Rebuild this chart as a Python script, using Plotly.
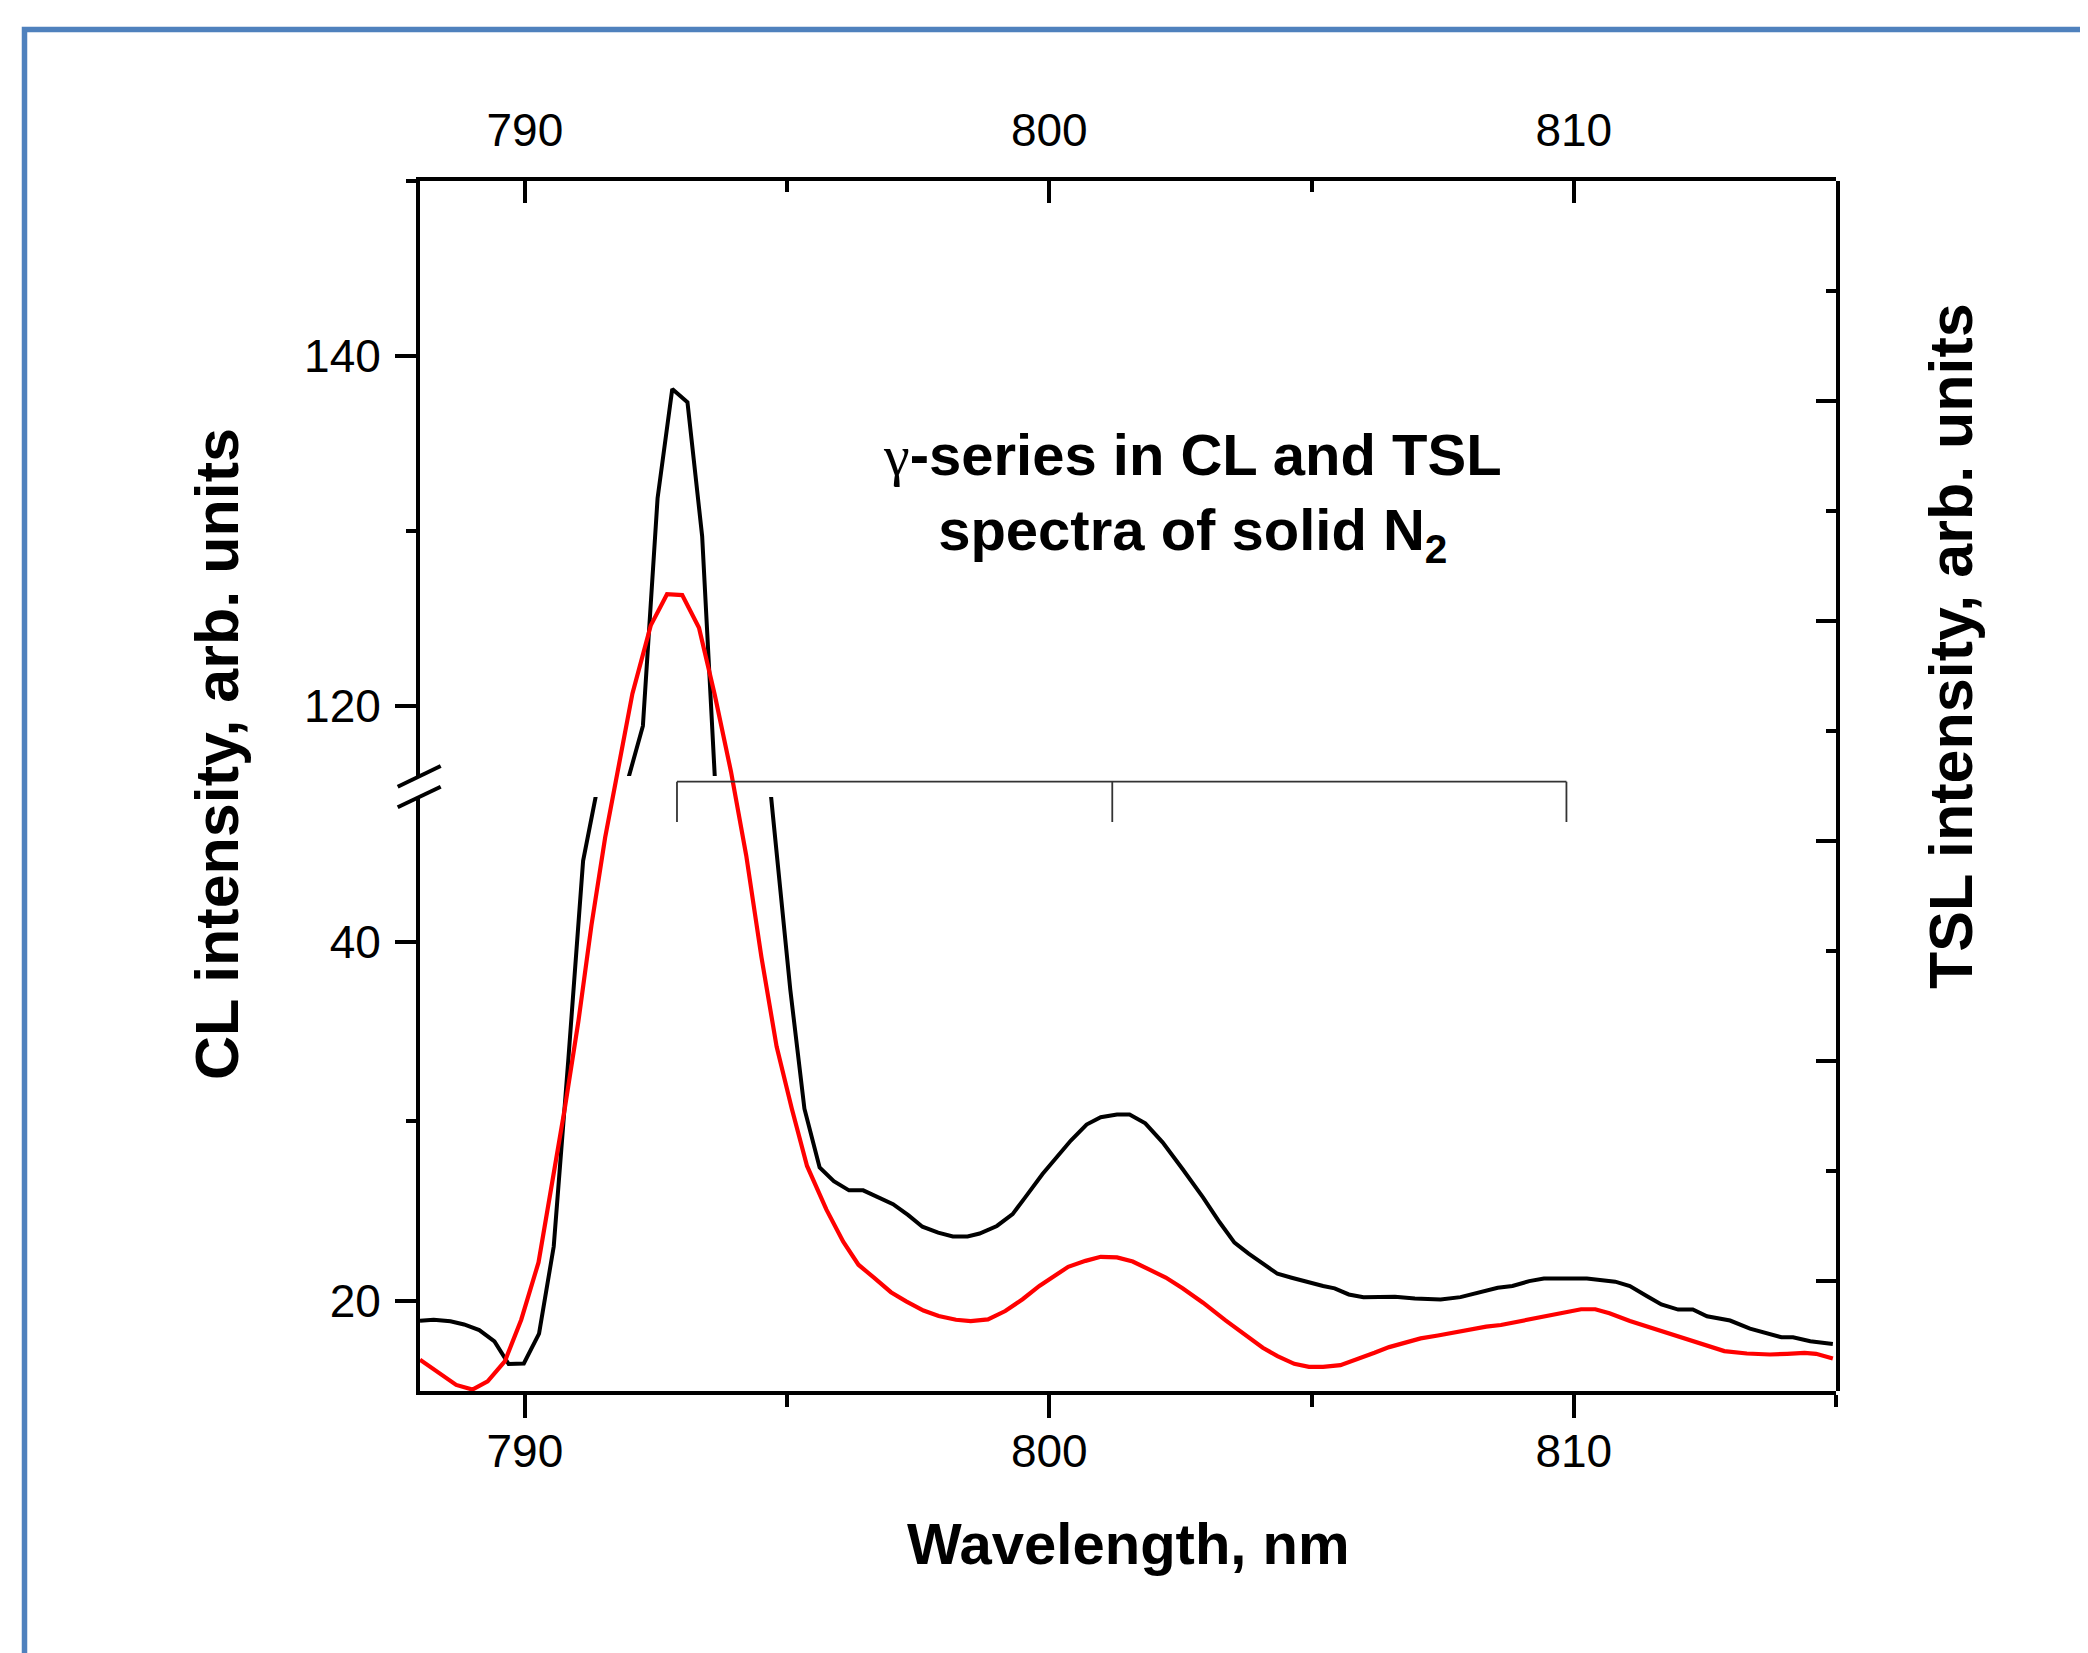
import plotly.graph_objects as go

# ---------------- data ----------------
cl_wavelength = [788.0, 788.26, 788.58, 788.84, 789.13, 789.42, 789.69, 789.98, 790.27, 790.55,
                 790.83, 791.11, 791.38, 791.65, 791.92, 792.25, 792.53, 792.81, 793.10, 793.38,
                 793.65, 793.92, 794.19, 794.46, 794.73, 795.06, 795.33, 795.62, 795.89, 796.18,
                 796.45, 796.73, 797.02, 797.31, 797.58, 797.88, 798.16, 798.44, 798.67, 799.00,
                 799.30, 799.54, 799.87, 800.14, 800.41, 800.71, 800.98, 801.29, 801.53, 801.83,
                 802.16, 802.54, 802.93, 803.25, 803.53, 803.80, 804.07, 804.35, 804.62, 804.95,
                 805.22, 805.44, 805.71, 805.99, 806.59, 806.97, 807.46, 807.84, 808.17, 808.55,
                 808.83, 809.15, 809.43, 809.92, 810.25, 810.79, 811.07, 811.39, 811.67, 811.99,
                 812.27, 812.54, 812.98, 813.36, 813.63, 813.96, 814.18, 814.51, 814.94]
cl_intensity = [18.91, 18.96, 18.88, 18.70, 18.39, 17.76, 16.50, 16.53, 18.19, 23.04,
                33.5, 44.49, 48.5, 80.0, 115.3, 118.86, 131.87, 138.12, 137.36, 129.70,
                114.3, 88.0, 70.0, 55.0, 47.0, 37.34, 30.70, 27.43, 26.67, 26.16,
                26.16, 25.77, 25.39, 24.78, 24.14, 23.81, 23.60, 23.60, 23.76, 24.18,
                24.84, 25.77, 27.07, 28.00, 28.93, 29.82, 30.23, 30.38, 30.38, 29.89,
                28.83, 27.35, 25.77, 24.37, 23.25, 22.64, 22.08, 21.52, 21.30, 21.02,
                20.84, 20.71, 20.37, 20.22, 20.24, 20.15, 20.09, 20.22, 20.46, 20.74,
                20.84, 21.11, 21.26, 21.25, 21.26, 21.08, 20.84, 20.28, 19.81, 19.53,
                19.53, 19.16, 18.92, 18.47, 18.23, 17.99, 17.99, 17.77, 17.62]

tsl_wavelength = [788.0, 788.40, 788.69, 789.0, 789.29, 789.62, 789.93, 790.26, 790.51, 790.76,
                  791.02, 791.27, 791.53, 791.77, 792.05, 792.40, 792.71, 793.0, 793.32, 793.62,
                  793.93, 794.22, 794.51, 794.80, 795.09, 795.38, 795.75, 796.07, 796.36, 796.65,
                  796.98, 797.27, 797.60, 797.89, 798.22, 798.50, 798.83, 799.16, 799.49, 799.81,
                  800.09, 800.36, 800.69, 800.98, 801.29, 801.59, 801.89, 802.22, 802.54, 802.93,
                  803.36, 803.75, 804.07, 804.35, 804.67, 804.95, 805.22, 805.55, 805.88, 806.20,
                  806.48, 806.75, 807.08, 807.41, 807.73, 808.01, 808.33, 808.61, 808.93, 809.26,
                  809.59, 809.86, 810.14, 810.41, 810.68, 811.07, 811.50, 811.94, 812.32, 812.87,
                  813.30, 813.74, 814.07, 814.40, 814.62, 814.94]
tsl_intensity = [0.284, 0.155, 0.055, 0.013, 0.088, 0.272, 0.648, 1.169, 1.858, 2.567,
                 3.360, 4.237, 5.03, 5.63, 6.34, 6.96, 7.244, 7.236, 6.939, 6.33,
                 5.63, 4.87, 3.945, 3.131, 2.567, 2.046, 1.649, 1.357, 1.148, 1.032,
                 0.898, 0.815, 0.731, 0.681, 0.648, 0.635, 0.651, 0.727, 0.834, 0.955,
                 1.047, 1.129, 1.183, 1.220, 1.214, 1.177, 1.107, 1.031, 0.934, 0.803,
                 0.642, 0.499, 0.393, 0.317, 0.247, 0.220, 0.220, 0.235, 0.287, 0.347,
                 0.399, 0.439, 0.478, 0.505, 0.536, 0.554, 0.585, 0.600, 0.630, 0.661,
                 0.691, 0.718, 0.743, 0.743, 0.706, 0.636, 0.569, 0.505, 0.439, 0.363,
                 0.341, 0.332, 0.338, 0.347, 0.338, 0.296]

gamma_lines = [792.9, 801.2, 809.86]          # gamma-series positions, nm
x_range = [788, 815]
y_low_range = [15, 48.04]                       # CL, lower part of broken axis
y_high_range = [116, 150]                       # CL, upper part of broken axis
y_tsl_range = [0, 11]                           # TSL (unlabelled right axis)

FONT = "Arial, 'Liberation Sans', sans-serif"
OFF = 8                                         # default page body margin
W, H = 2088 - OFF, 1653 - OFF
ML, MT = 412, 173
PW, PH = 1416, 1210
MR, MB = W - ML - PW, H - MT - PH


def px_x(x):   # reference page pixel -> paper x
    return (x - OFF - ML) / PW


def px_y(y):   # reference page pixel -> paper y
    return (H - MB - (y - OFF)) / PH


low_dom = [0, px_y(797)]
high_dom = [px_y(776), 1]

fig = go.Figure()
fig.add_trace(go.Scatter(x=cl_wavelength, y=cl_intensity, mode="lines", xaxis="x", yaxis="y",
                         line=dict(color="black", width=4), showlegend=False, hoverinfo="skip"))
fig.add_trace(go.Scatter(x=cl_wavelength, y=cl_intensity, mode="lines", xaxis="x", yaxis="y2",
                         line=dict(color="black", width=4), showlegend=False, hoverinfo="skip"))
# same CL data on the top-axis subplot (transparent) so the top axis gets drawn
fig.add_trace(go.Scatter(x=cl_wavelength, y=cl_intensity, mode="lines", xaxis="x2", yaxis="y2",
                         line=dict(color="black", width=4), opacity=0, showlegend=False,
                         hoverinfo="skip"))
fig.add_trace(go.Scatter(x=tsl_wavelength, y=tsl_intensity, mode="lines", xaxis="x", yaxis="y3",
                         line=dict(color="#FF0000", width=4.2), showlegend=False, hoverinfo="skip"))

common = dict(showgrid=False, zeroline=False, showline=True, linecolor="black", linewidth=4,
              tickcolor="black", tickwidth=3.5, tickfont=dict(family=FONT, size=46, color="black"))
minor_common = dict(tickwidth=3.5, tickcolor="black", showgrid=False)

fig.update_layout(
    width=W, height=H, autosize=False,
    margin=dict(l=ML, r=MR, t=MT, b=MB, pad=0),
    paper_bgcolor="white", plot_bgcolor="rgba(0,0,0,0)",
    xaxis=dict(**common, domain=[0, 1], range=x_range, anchor="y", side="bottom",
               ticks="outside", ticklen=23, tick0=790, dtick=10, ticklabelstandoff=-6,
               minor=dict(**minor_common, ticks="outside", ticklen=12, tick0=790, dtick=5)),
    xaxis2=dict(**common, overlaying="x", range=x_range, anchor="y2", side="top",
                ticks="inside", ticklen=22, tick0=790, dtick=10, ticklabelstandoff=13,
                minor=dict(**minor_common, ticks="inside", ticklen=11, tick0=790, dtick=5)),
    yaxis=dict(**common, domain=low_dom, range=y_low_range, anchor="x", side="left",
               ticks="outside", ticklen=21, tick0=0, dtick=20, ticklabelstandoff=5,
               minor=dict(**minor_common, ticks="outside", ticklen=10, tick0=0, dtick=10)),
    yaxis2=dict(**common, domain=high_dom, range=y_high_range, anchor="x", side="left",
                ticks="outside", ticklen=21, tick0=0, dtick=20, ticklabelstandoff=5,
                minor=dict(**minor_common, ticks="outside", ticklen=10, tick0=0, dtick=10)),
    yaxis3=dict(**common, domain=[0, 1], range=y_tsl_range, anchor="x", side="right",
                ticks="inside", ticklen=20, tick0=1, dtick=2, showticklabels=False,
                minor=dict(**minor_common, ticks="inside", ticklen=10, tick0=0, dtick=1)),
)

# gamma-series bracket (in TSL-axis units: 110 px per unit)
y_bar = (1391 - 781.7) / 110.0
y_tick = (1391 - 822) / 110.0
shapes = [dict(type="line", xref="x", yref="y3", x0=gamma_lines[0], x1=gamma_lines[-1],
               y0=y_bar, y1=y_bar, line=dict(color="#333333", width=1.8))]
for g in gamma_lines:
    shapes.append(dict(type="line", xref="x", yref="y3", x0=g, x1=g, y0=y_bar, y1=y_tick,
                       line=dict(color="#333333", width=1.8)))
# axis-break marks
for (ya, yb) in [(786.7, 766.0), (807.3, 786.7)]:
    shapes.append(dict(type="line", xref="paper", yref="paper", x0=px_x(397.7), x1=px_x(440.7),
                       y0=px_y(ya), y1=px_y(yb), line=dict(color="black", width=4)))
# blue frame (only top and left edges fall inside the picture)
shapes.append(dict(type="rect", xref="paper", yref="paper", x0=px_x(24.5), x1=px_x(2300),
                   y0=px_y(1900), y1=px_y(29.5), line=dict(color="#4F81BD", width=5.5),
                   fillcolor="rgba(0,0,0,0)", layer="above"))
fig.update_layout(shapes=shapes)

ann = [
    dict(text="<b>CL intensity, arb. units</b>", x=px_x(217), y=px_y(754), textangle=-90, size=61),
    dict(text="<b>TSL intensity, arb. units</b>", x=px_x(1951), y=px_y(646), textangle=-90, size=61),
    dict(text="<b>Wavelength, nm</b>", x=px_x(1128), y=px_y(1543), size=58),
    dict(text="<b><span style=\"font-family:'Liberation Serif';font-weight:normal\">γ</span>"
              "-series in CL and TSL<br>spectra of solid N<sub>2</sub></b>",
         x=px_x(1192), y=px_y(497), size=58),
]
for a in ann:
    size = a.pop("size")
    a.update(xref="paper", yref="paper", showarrow=False, xanchor="center", yanchor="middle",
             font=dict(family=FONT, size=size, color="black"))
fig.update_layout(annotations=ann)

fig.write_html("out.html")
